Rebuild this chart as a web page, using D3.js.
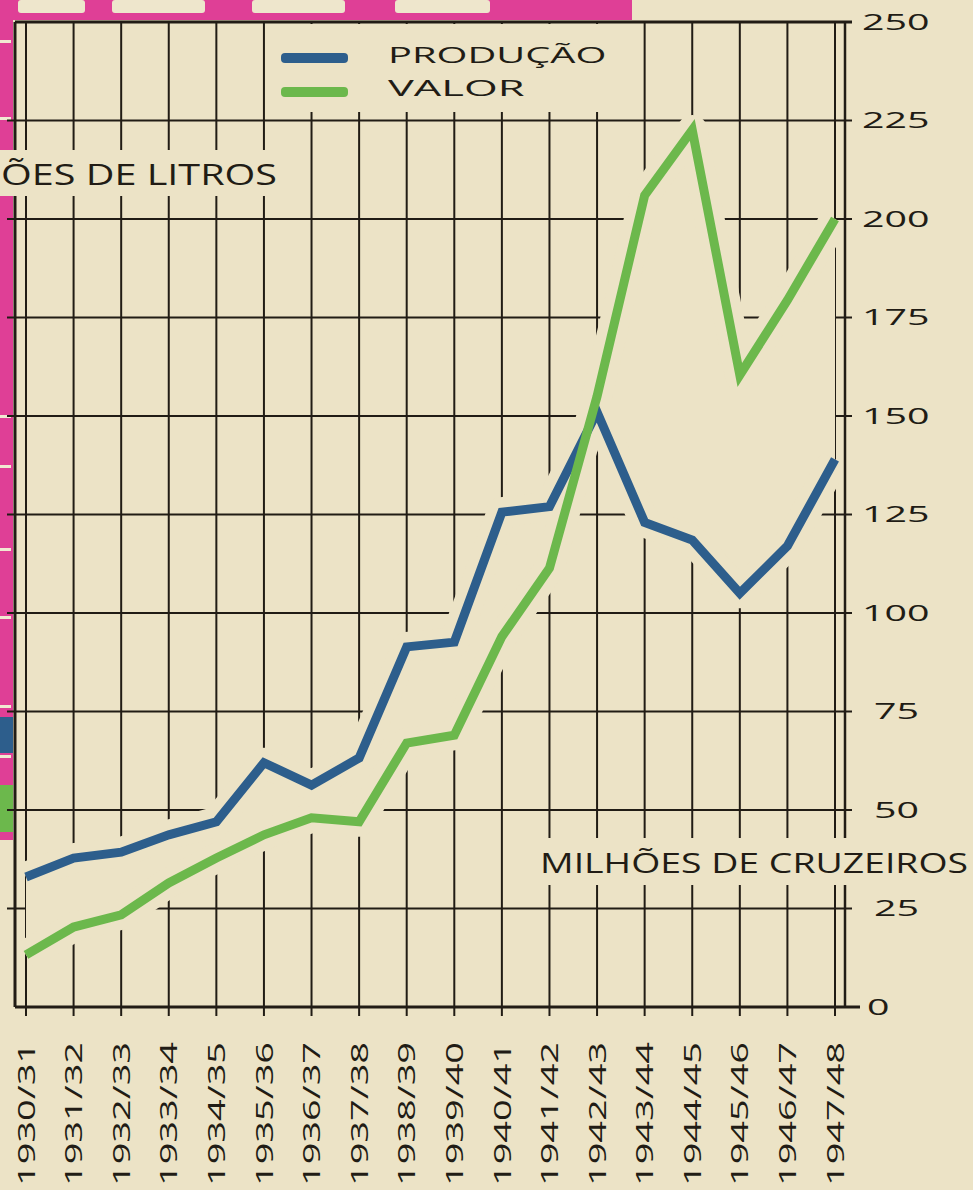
<!DOCTYPE html>
<html>
<head>
<meta charset="utf-8">
<script src="https://cdn.jsdelivr.net/npm/d3@7"></script>
<style>
  html, body { margin: 0; padding: 0; background: #ece3c6; }
  svg { display: block; }
</style>
</head>
<body>
<div id="chart"></div>
<script>
const seasons = ["1930/31", "1931/32", "1932/33", "1933/34", "1934/35", "1935/36",
  "1936/37", "1937/38", "1938/39", "1939/40", "1940/41", "1941/42",
  "1942/43", "1943/44", "1944/45", "1945/46", "1946/47", "1947/48"];
const producao = [33, 37.8, 39.3, 43.7, 47, 62, 56.3, 63.2, 91.4, 92.6, 125.6, 127,
  151, 123, 118.5, 105, 117, 139];
const valor = [13.2, 20.3, 23.4, 31.5, 37.8, 43.7, 48, 47, 67, 69, 94, 111.4,
  155, 206, 222.6, 160.4, 179.4, 200];
const yTicks = [0, 25, 50, 75, 100, 125, 150, 175, 200, 225, 250];
const legendItems = ["PRODUÇÃO", "VALOR"];

(() => {
  const width = 973;
  const height = 1190;
  const cream = "#ece3c6";
  const ink = "#211c15";
  const magenta = "#df3f96";
  const blue = "#2d5e8c";
  const green = "#6cb84c";
  const left = 15, right = 845, top = 22, bottom = 1007;
  const font = "'Open Sans', 'DejaVu Sans', sans-serif";

  const svg = d3.select("#chart").append("svg")
    .attr("width", width)
    .attr("height", height)
    .attr("viewBox", [0, 0, width, height]);

  const x = d3.scalePoint().domain(seasons).range([26, 835]);
  const y = d3.scaleLinear().domain([0, 250]).range([bottom, top]);

  svg.append("rect").attr("width", width).attr("height", height).attr("fill", cream);

  // bits of the neighbouring page that show at the top and left edge
  const deco = svg.append("g");
  deco.append("rect").attr("x", 0).attr("y", 0).attr("width", 632).attr("height", 20).attr("fill", magenta);
  [[18, 85], [112, 205], [252, 345], [395, 490]].forEach(([a, b]) => {
    deco.append("rect").attr("x", a).attr("y", 0).attr("width", b - a).attr("height", 13)
      .attr("rx", 3).attr("fill", "#eee6cc");
  });
  deco.append("rect").attr("x", 0).attr("y", 0).attr("width", 13).attr("height", 840).attr("fill", magenta);
  deco.append("rect").attr("x", 0).attr("y", 717).attr("width", 13).attr("height", 36).attr("fill", blue);
  deco.append("rect").attr("x", 0).attr("y", 785).attr("width", 13).attr("height", 47).attr("fill", green);
  [40, 117, 415, 465, 548, 616, 705, 755].forEach(v => {
    deco.append("rect").attr("x", 0).attr("y", v).attr("width", 11).attr("height", 3).attr("fill", "#f1e9d2");
  });

  // grid
  const grid = svg.append("g").attr("stroke", ink).attr("stroke-width", 2);
  grid.selectAll("line.h")
    .data(yTicks.slice(1, -1))
    .join("line")
    .attr("class", "h")
    .attr("x1", left).attr("x2", right + 7)
    .attr("y1", d => y(d)).attr("y2", d => y(d));
  grid.selectAll("line.v")
    .data(seasons)
    .join("line")
    .attr("class", "v")
    .attr("x1", d => x(d)).attr("x2", d => x(d))
    .attr("y1", top).attr("y2", bottom + 9);

  // gaps in the grid round the curves and the labels
  const clear = svg.append("g");
  const band = d3.area()
    .x((d, i) => x(seasons[i]))
    .y0((d, i) => y(valor[i]))
    .y1((d, i) => y(producao[i]));
  clear.append("path").datum(seasons).attr("d", band).attr("fill", cream);

  const line = d3.line().x((d, i) => x(seasons[i])).y(d => y(d));
  [producao, valor].forEach(series => {
    clear.append("path").datum(series).attr("d", line)
      .attr("fill", "none").attr("stroke", cream).attr("stroke-width", 30)
      .attr("stroke-linejoin", "round");
  });
  clear.append("rect").attr("x", 270).attr("y", top + 2).attr("width", 370).attr("height", 88).attr("fill", cream);
  clear.append("rect").attr("x", 0).attr("y", 150).attr("width", 283).attr("height", 46).attr("fill", cream);
  clear.append("rect").attr("x", 532).attr("y", 838).attr("width", 441).attr("height", 47).attr("fill", cream);

  // axes
  const axes = svg.append("g").attr("stroke", ink);
  axes.append("line").attr("x1", left).attr("x2", right + 7).attr("y1", top).attr("y2", top).attr("stroke-width", 3);
  axes.append("line").attr("x1", left).attr("x2", right + 15).attr("y1", bottom).attr("y2", bottom).attr("stroke-width", 3);
  axes.append("line").attr("x1", left).attr("x2", left).attr("y1", top).attr("y2", 150).attr("stroke-width", 3);
  axes.append("line").attr("x1", left).attr("x2", left).attr("y1", 196).attr("y2", bottom).attr("stroke-width", 3);
  axes.append("line").attr("x1", right).attr("x2", right).attr("y1", top).attr("y2", 838).attr("stroke-width", 2.5);
  axes.append("line").attr("x1", right).attr("x2", right).attr("y1", 885).attr("y2", bottom).attr("stroke-width", 2.5);
  axes.selectAll("line.lt")
    .data(yTicks.slice(1, -1).filter(d => Math.abs(y(d) - 173) > 25))
    .join("line")
    .attr("class", "lt")
    .attr("x1", 7).attr("x2", left)
    .attr("y1", d => y(d)).attr("y2", d => y(d))
    .attr("stroke-width", 2);

  // data lines
  svg.append("path").datum(producao).attr("d", line)
    .attr("fill", "none").attr("stroke", blue).attr("stroke-width", 9)
    .attr("stroke-linejoin", "miter");
  svg.append("path").datum(valor).attr("d", line)
    .attr("fill", "none").attr("stroke", green).attr("stroke-width", 9)
    .attr("stroke-linejoin", "miter");

  const text = svg.append("g").attr("fill", ink).attr("font-family", font);

  // right axis labels
  text.selectAll("text.ry")
    .data(yTicks)
    .join("text")
    .attr("class", "ry")
    .attr("x", d => d === 0 ? 867 : (d < 100 ? 874 : 862))
    .attr("y", d => y(d))
    .attr("dy", "0.36em")
    .attr("font-size", 22)
    .attr("textLength", d => String(d).length * 22.5)
    .attr("lengthAdjust", "spacingAndGlyphs")
    .text(d => d);

  // season labels, reading upwards
  text.selectAll("text.season")
    .data(seasons)
    .join("text")
    .attr("class", "season")
    .attr("transform", d => `translate(${x(d)},1186) rotate(-90)`)
    .attr("dy", "0.36em")
    .attr("font-size", 24)
    .attr("textLength", 144)
    .attr("lengthAdjust", "spacingAndGlyphs")
    .text(d => d);

  text.append("text")
    .attr("x", 1).attr("y", 185)
    .attr("font-size", 30)
    .attr("textLength", 276)
    .attr("lengthAdjust", "spacingAndGlyphs")
    .text("ÕES DE LITROS");

  text.append("text")
    .attr("x", 540).attr("y", 873)
    .attr("font-size", 27)
    .attr("textLength", 428)
    .attr("lengthAdjust", "spacingAndGlyphs")
    .text("MILHÕES DE CRUZEIROS");

  // legend
  const legend = svg.append("g");
  const swatch = [blue, green];
  legend.selectAll("rect")
    .data(legendItems)
    .join("rect")
    .attr("x", 281).attr("y", (d, i) => 53 + i * 34)
    .attr("width", 67).attr("height", 10).attr("rx", 4)
    .attr("fill", (d, i) => swatch[i]);
  legend.selectAll("text")
    .data(legendItems)
    .join("text")
    .attr("x", 388).attr("y", (d, i) => 63 + i * 33)
    .attr("font-family", font)
    .attr("font-size", 21)
    .attr("fill", ink)
    .attr("textLength", d => d.length * 27.3)
    .attr("lengthAdjust", "spacingAndGlyphs")
    .text(d => d);
})();
</script>
</body>
</html>
